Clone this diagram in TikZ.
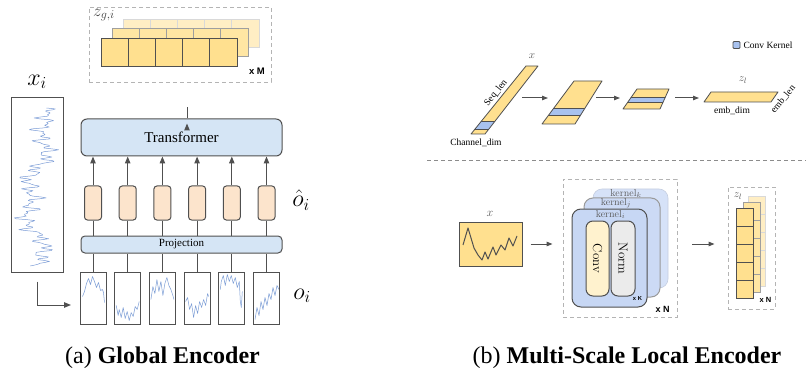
\RequirePackage{fix-cm}
\documentclass[tikz,border=0pt]{standalone}
\usepackage[no-math]{fontspec}
\setmainfont{Liberation Serif}
\newfontfamily\labelsans{Liberation Sans}
\usetikzlibrary{arrows.meta,calc}

\definecolor{linegray}{HTML}{505050}
\definecolor{dashgray}{HTML}{B4B4B4}
\definecolor{yelA}{HTML}{FFE08F}
\definecolor{yelB}{HTML}{FFE6A3}
\definecolor{yelC}{HTML}{FFEEC4}
\definecolor{tblue}{HTML}{D5E5F5}
\definecolor{peach}{HTML}{FCE4CC}
\definecolor{kblueA}{HTML}{C7D7F4}
\definecolor{kblueB}{HTML}{CCDAF5}
\definecolor{kblueC}{HTML}{D6E2F8}
\definecolor{bandblue}{HTML}{A8C2EF}
\definecolor{sigblue}{HTML}{7C9DD6}
\definecolor{cream}{HTML}{FFF2CE}
\definecolor{normgray}{HTML}{EBEBEB}
\definecolor{labelgray}{HTML}{5A5A5A}

% a slanted tensor slab with a highlighted kernel band
\newcommand\drawslab[6]{%
  \begin{scope}
    \clip #1--#2--#3--#4--cycle;
    \fill[yelA] #1--#2--#3--#4--cycle;
    \fill[bandblue] (400,#5) rectangle (809,#6);
    \draw[linegray, line width=0.8pt] (400,#5) -- (809,#5) (400,#6) -- (809,#6);
  \end{scope}
  \draw[linegray, line width=0.8pt, line join=round] #1--#2--#3--#4--cycle;}

\begin{document}
\begin{tikzpicture}[x=1pt, y=-1pt,
  frame/.style={draw=linegray, line width=1pt},
  tbox/.style={frame, fill=tblue, rounded corners=6pt, inner sep=0pt},
  hbox/.style={frame, fill=peach, rounded corners=3pt, minimum width=17pt, minimum height=34pt, inner sep=0pt},
  patch/.style={frame, fill=white, minimum width=26pt, minimum height=52pt, inner sep=0pt},
  link/.style={draw=linegray, line width=1pt},
  uparrow/.style={link, -{Triangle[length=7pt,width=5.5pt]}},
  flowarrow/.style={link, -{Triangle[length=6pt,width=4.5pt]}},
  dashbox/.style={draw=dashgray, dash pattern=on 4pt off 3pt, line width=0.9pt, inner sep=0pt},
  sig/.style={draw=sigblue, line width=0.5pt, line join=round},
  mult/.style={font=\labelsans\bfseries\fontsize{9}{9}\selectfont, inner sep=0pt},
  small/.style={font=\fontsize{9.5}{11}\selectfont, inner sep=0pt},
  mathlbl/.style={font=\fontsize{24}{28}\selectfont, inner sep=0pt},
  kbox/.style={rounded corners=9pt, inner sep=0pt},
  cell/.style={line width=0.9pt}
]
\useasboundingbox (0,0) rectangle (809,377);

% ---------------- (a) global encoder ----------------
% output embeddings z_{g,i}
\node[dashbox, minimum width=182pt, minimum height=75pt] (zg) at (180,44.5) {};
\foreach \r/\fc/\dc in {2/yelC/dashgray!50, 1/yelB/gray!75, 0/yelA/linegray} {
  \foreach \i in {0,...,4} {
    \draw[cell, fill=\fc, draw=\dc] ({101+27.2*\i+11*\r},{38-9.5*\r}) rectangle ++(27.2,28);
  }
}
\node[font=\fontsize{17}{20}\selectfont, text=labelgray!80!black, inner sep=0pt] (zglbl) at (104,15) {$z_{g,i}$};
\node[mult, font=\labelsans\bfseries\fontsize{9.5}{10}\selectfont] (xm) at (257,71) {x M};

% transformer and projection
\node[tbox, minimum width=201pt, minimum height=37pt] (tr) at (181.5,137.5)
  {\fontsize{15}{18}\selectfont Transformer};
\node[tbox, rounded corners=4pt, minimum width=201pt, minimum height=17pt] (proj) at (181.5,244.5)
  {\fontsize{11}{13}\selectfont Projection};
\draw[uparrow, shorten >=5pt] ($(tr.north)+(5.5,0)$) -- ($(tr.north)+(5.5,0)$ |- zg.south);

% patch tokens, projected tokens and their links
\foreach \k in {1,...,6} {
  \pgfmathsetmacro\cx{93+34.7*(\k-1)}
  \node[hbox] (h\k) at (\cx,203) {};
  \node[patch] (p\k) at (\cx,298) {};
  \draw[uparrow] (h\k.north) -- (h\k.north |- tr.south);
  \draw[link] (h\k.south) -- (h\k.south |- proj.north);
  \draw[link] (p\k.north) -- (p\k.north |- proj.south);
}

% signal inside each patch
\begin{scope}[shift={(p1.north west)}]
  \draw[sig] (3,25)--(5,20)--(7,12)--(9,7)--(11,13)--(13,5)--(15,10)--(17,16)--(19,11)--(21,19)--(23,18)--(24,21)--(25,31);
\end{scope}
\begin{scope}[shift={(p2.north west)}]
  \draw[sig] (2,34)--(4,44)--(5,38)--(7,46)--(9,36)--(11,47)--(13,40)--(15,49)--(17,41)--(19,45)--(21,35)--(23,38)--(25,30);
\end{scope}
\begin{scope}[shift={(p3.north west)}]
  \draw[sig] (2,28)--(4,15)--(6,22)--(8,8)--(10,20)--(12,10)--(14,24)--(16,12)--(18,6)--(20,14)--(22,18)--(24,24)--(25,28);
\end{scope}
\begin{scope}[shift={(p4.north west)}]
  \draw[sig] (2,30)--(4,26)--(6,38)--(8,32)--(10,46)--(12,34)--(14,42)--(16,30)--(18,36)--(20,28)--(22,34)--(24,22)--(25,25);
\end{scope}
\begin{scope}[shift={(p5.north west)}]
  \draw[sig] (2,18)--(3,10)--(5,4)--(7,14)--(9,3)--(11,10)--(13,4)--(15,12)--(17,6)--(19,16)--(21,10)--(22,30)--(23,36)--(24,20);
\end{scope}
\begin{scope}[shift={(p6.north west)}]
  \draw[sig] (2,48)--(4,36)--(6,44)--(8,30)--(10,38)--(12,26)--(14,34)--(16,22)--(18,28)--(20,16)--(22,24)--(24,14)--(26,18);
\end{scope}

\node[mathlbl] (ohat) at (301,200) {$\hat{o}_i$};
\node[mathlbl] (olbl) at (302,296) {$o_i$};

% whole input series x_i
\node[frame, minimum width=52pt, minimum height=174pt, inner sep=0pt] (xi) at (37,185) {};
\node[mathlbl] (xilbl) at (37,82) {$x_i$};
\begin{scope}
  \clip (13,100) rectangle (61,270);
  \draw[sig] plot[domain=0:158, samples=175]
    ({37+9*sin(2.6*\x+20)+5*sin(8.3*\x+50)+5*sin(29*\x)+5*sin(61*\x+30)+3.5*sin(97*\x)}, {108+\x});
\end{scope}
\coordinate (lstart) at ($(xi.south)+(0,9)$);
\coordinate (lend) at (71,305);
\draw[uparrow] (lstart) |- (lend);

\node[anchor=base, font=\fontsize{24}{28}\selectfont, inner sep=0pt] (capa) at (162.5,363)
  {(a) \textbf{Global Encoder}};

% ---------------- (b) multi-scale local encoder ----------------
% legend
\node[draw=linegray, fill=bandblue, line width=0.8pt, minimum size=7pt, rounded corners=1pt, inner sep=0pt] (leg) at (736.5,45) {};
\node[small, anchor=west] (legtxt) at ($(leg.east)+(3,0)$) {Conv Kernel};

% tensor view of the convolution
\drawslab{(471,134)}{(485,134)}{(538,66)}{(526,66)}{121}{129}
\drawslab{(542,124)}{(575,124)}{(602,81)}{(574,81)}{108}{115}
\drawslab{(623,109)}{(660,109)}{(669,89)}{(637,89)}{97}{102}
\draw[linegray, fill=yelA, line width=0.8pt, line join=round] (704,102)--(771,102)--(778,92)--(711,92)--cycle;

\coordinate (s1e) at (522,98); \coordinate (s2w) at (548,98);
\coordinate (s2e) at (596,98); \coordinate (s3w) at (620,98);
\coordinate (s3e) at (675,98); \coordinate (s4w) at (699,98);
\draw[flowarrow] (s1e) -- (s2w);
\draw[flowarrow] (s2e) -- (s3w);
\draw[flowarrow] (s3e) -- (s4w);

\node[font=\fontsize{11}{13}\selectfont, text=labelgray, inner sep=0pt] (xtop) at (532,56) {$x$};
\node[small, rotate=51] (seqlen) at (496,93) {Seq\_len};
\node[small] (chdim) at (476,143) {Channel\_dim};
\node[font=\fontsize{11}{13}\selectfont, text=labelgray, inner sep=0pt] (zltop) at (743,80) {$z_l$};
\node[small] (embdim) at (732,111) {emb\_dim};
\node[small, rotate=50] (emblen) at (783,99) {emb\_len};

% separator
\coordinate (sepl) at (427,161); \coordinate (sepr) at (806,161);
\draw[draw=gray!90, line width=1pt, dash pattern=on 4pt off 3pt] (sepl) -- (sepr);

% input series x
\node[frame, fill=yelA, minimum width=63pt, minimum height=44pt, inner sep=0pt] (xr) at (490.5,244) {};
\node[font=\fontsize{12}{14}\selectfont, text=labelgray, inner sep=0pt] (xrlbl) at (490,214) {$x$};
\draw[linegray, line width=1pt, line join=round] (463,245)--(468,228)--(474,248)--(478,255)--(482,260)--(485,252)--(488,259)--(493,247)--(496,255)--(501,245)--(505,250)--(509,238)--(513,246)--(517,236);

% multi-kernel conv blocks
\node[dashbox, minimum width=114pt, minimum height=138pt] (kgrp) at (620,248) {};
\node[kbox, fill=kblueC, draw=kblueC!80!gray, line width=0.6pt, minimum width=75pt, minimum height=99pt] (kk) at (630.5,238.5) {};
\node[kbox, fill=kblueB, draw=gray!80, line width=1pt, minimum width=76pt, minimum height=99pt] (kj) at (622,247.5) {};
\node[kbox, fill=kblueA, draw=linegray, line width=1pt, minimum width=75pt, minimum height=98pt] (ki) at (609.5,258) {};
\node[font=\fontsize{10}{12}\selectfont, text=labelgray, inner sep=0pt] (kklbl) at (626,193.5) {$\mathrm{kernel}_k$};
\node[font=\fontsize{10}{12}\selectfont, text=labelgray, inner sep=0pt] (kjlbl) at (616,203) {$\mathrm{kernel}_j$};
\node[font=\fontsize{10}{12}\selectfont, text=labelgray, inner sep=0pt] (kilbl) at (610.5,214.5) {$\mathrm{kernel}_i$};
\node[frame, fill=cream, rounded corners=7pt, minimum width=23pt, minimum height=75pt, inner sep=0pt] (conv) at (597.5,258.5)
  {\rotatebox{-90}{\fontsize{13}{15}\selectfont$\mathrm{Conv}$}};
\node[frame, fill=normgray, rounded corners=7pt, minimum width=24pt, minimum height=75pt, inner sep=0pt] (norm) at (623,258.5)
  {\rotatebox{-90}{\fontsize{13}{15}\selectfont$\mathrm{Norm}$}};
\node[mult, font=\labelsans\bfseries\fontsize{5.8}{6}\selectfont] (xk) at (637.5,299) {x K};
\node[mult] (xn1) at (662.5,309) {x N};

% local embeddings z_l
\node[dashbox, minimum width=47pt, minimum height=122pt] (zl) at (751.5,248) {};
\foreach \dx/\dy/\fc/\dc in {12/-12/yelC/dashgray!50, 7/-6/yelB/gray!75, 0/0/yelA/linegray} {
  \foreach \j in {0,...,4} {
    \draw[cell, fill=\fc, draw=\dc] ({736+\dx},{208+18*\j+\dy}) rectangle ++(17.5,18);
  }
}
\node[font=\fontsize{11}{13}\selectfont, text=labelgray, inner sep=0pt] (zllbl) at (738,196) {$z_l$};
\node[mult, font=\labelsans\bfseries\fontsize{7.5}{8}\selectfont] (xn2) at (765.5,300) {x N};

\draw[flowarrow, shorten <=8pt, shorten >=10pt] (xr.east) -- (xr.east -| kgrp.west);
\draw[flowarrow, shorten <=15pt, shorten >=13pt] (kgrp.east |- xr.east) -- (zl.west |- xr.east);

\node[anchor=base, font=\fontsize{24}{28}\selectfont, inner sep=0pt] (capb) at (627,363)
  {(b) \textbf{Multi-Scale Local Encoder}};
\end{tikzpicture}
\end{document}
